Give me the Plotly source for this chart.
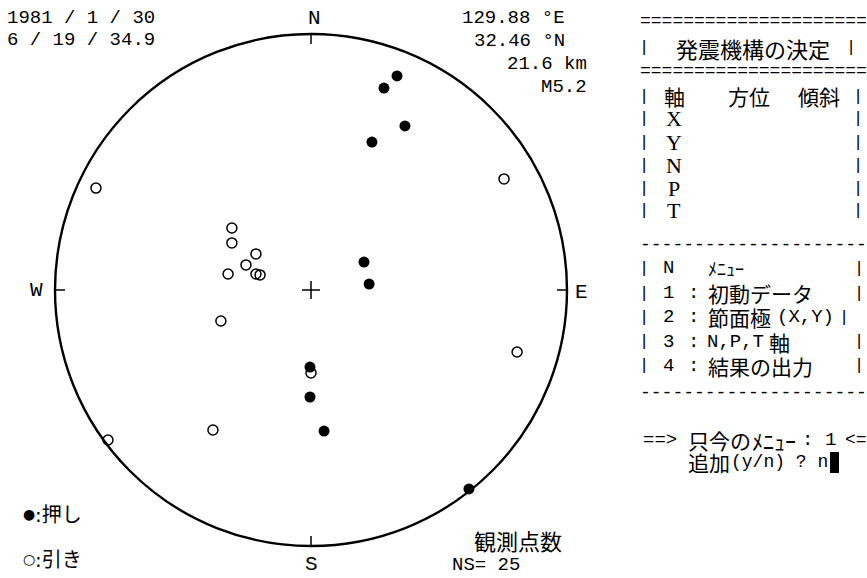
import plotly.graph_objects as go

# Canvas and projection-net geometry (pixels)
W, H = 867, 578
CX, CY, R = 311, 290, 256

# First-motion polarities, plotted on the unit projection net (x east, y north)
push_x = [0.336, 0.285, 0.367, 0.238, 0.207, 0.227, -0.004, -0.004, 0.051, 0.617]
push_y = [0.836, 0.789, 0.641, 0.578, 0.109, 0.023, -0.301, -0.418, -0.551, -0.777]

pull_x = [-0.840, 0.754, -0.309, -0.309, -0.215, -0.254, -0.324, -0.215, -0.199,
          -0.352, 0.805, 0.000, -0.383, -0.793]
pull_y = [0.398, 0.434, 0.242, 0.184, 0.141, 0.098, 0.0625, 0.0625, 0.059,
          -0.121, -0.242, -0.324, -0.547, -0.586]

# Event header
event_date = "1981 / 1 / 30"
event_time = "6 / 19 / 34.9"
event_lon = "129.88 °E"
event_lat = "32.46 °N"
event_depth = "21.6 km"
event_mag = "M5.2"
n_stations = 25

# Side panel text
axis_names = ["X", "Y", "N", "P", "T"]
menu_items = [("1", "初動データ", None), ("2", "節面極", "(X,Y)"),
              ("3", "N,P,T", "軸"), ("4", "結果の出力", None)]

MONO = "Liberation Mono, DejaVu Sans Mono, monospace"
CJK = "Noto Sans CJK JP, Noto Sans CJK SC, sans-serif"
SERIF = "Liberation Serif, DejaVu Serif, serif"
SYM = "DejaVu Sans, Noto Sans CJK JP"

fig = go.Figure()

fig.add_trace(go.Scatter(
    x=push_x, y=push_y, mode="markers", name="押し",
    marker=dict(symbol="circle", size=11, color="black"),
    hoverinfo="skip", showlegend=False))
fig.add_trace(go.Scatter(
    x=pull_x, y=pull_y, mode="markers", name="引き",
    marker=dict(symbol="circle-open", size=10, color="black",
                line=dict(width=1.5, color="black")),
    hoverinfo="skip", showlegend=False))

# Net outline, centre cross and N/E/S/W ticks
shapes = [dict(type="circle", xref="x", yref="y", x0=-1, y0=-1, x1=1, y1=1,
               line=dict(color="black", width=2.4))]
arm = 9 / R
tick = 10 / R
for x0, y0, x1, y1 in [(-arm, 0, arm, 0), (0, -arm, 0, arm),
                       (0, 1, 0, 1 - tick), (0, -1, 0, -1 + tick),
                       (-1, 0, -1 + tick, 0), (1, 0, 1 - tick, 0)]:
    shapes.append(dict(type="line", xref="x", yref="y", x0=x0, y0=y0, x1=x1, y1=y1,
                       line=dict(color="black", width=1.5)))

# Text cursor block after the prompt
shapes.append(dict(type="rect", xref="paper", yref="paper",
                   x0=830 / W, x1=839 / W, y0=1 - 473 / H, y1=1 - 452 / H,
                   fillcolor="black", line=dict(width=0)))

annotations = []


def txt(px, py, s, size=19, family=MONO, anchor="left"):
    annotations.append(dict(
        x=px / W, y=1 - py / H, xref="paper", yref="paper", text=s,
        showarrow=False, xanchor=anchor, yanchor="middle", borderpad=0,
        font=dict(family=family, size=size, color="black")))


def bar(px, py):
    txt(px, py, "|", size=17, anchor="center")


def rule(py, ch):
    txt(639, py, ch * 21, size=18)


# Header
txt(6, 18, event_date)
txt(6, 40, event_time)
txt(566, 18, event_lon, anchor="right")
txt(566, 41, event_lat, anchor="right")
txt(588, 64, event_depth, anchor="right")
txt(588, 87, event_mag, anchor="right")

# Compass labels
txt(314, 18, "N", size=21, anchor="center")
txt(311, 564, "S", size=21, anchor="center")
txt(36, 290, "W", size=21, anchor="center")
txt(581, 292, "E", size=21, anchor="center")

# Legend
txt(29, 514, "●", size=14, family=SYM, anchor="center")
txt(34, 515, ":押し", size=20, family=SYM)
txt(29, 559, "○", size=14, family=SYM, anchor="center")
txt(34, 560, ":引き", size=20, family=SYM)

# Station count
txt(473, 540, "観測点数", size=22, family=CJK)
txt(451, 565, f"NS= {n_stations}")

# Panel: title box
rule(21, "=")
bar(644, 48)
txt(675, 48, "発震機構の決定", size=22, family=CJK)
bar(851, 48)
rule(71, "=")

# Panel: axis table
bar(644, 96)
txt(663, 96, "軸", size=21, family=CJK)
txt(727, 96, "方位", size=21, family=CJK)
txt(797, 96, "傾斜", size=21, family=CJK)
bar(858, 96)
for i, name in enumerate(axis_names):
    yy = 119 + 23 * i
    bar(644, yy)
    txt(674, yy, name, size=22, family=SERIF, anchor="center")
    bar(858, yy)

rule(245, "-")

# Panel: menu
bar(644, 268)
txt(668, 268, "N", anchor="center")
txt(707, 268, "ﾒﾆｭｰ", size=18, family=CJK)
bar(859, 268)
for i, (num, label, extra) in enumerate(menu_items):
    yy = 293 + 24.3 * i
    bar(644, yy)
    txt(668, yy, num, anchor="center")
    txt(693, yy, ":", anchor="center")
    if num == "3":
        txt(706, yy, label)
        txt(768, yy, extra, size=21, family=CJK)
    else:
        txt(707, yy, label, size=21, family=CJK)
        if extra:
            txt(776, yy, extra)
    bar(844 if num == "2" else 859, yy)

rule(393, "-")

# Prompt
txt(642, 440, "==>")
txt(687, 440, "只今の", size=21, family=CJK)
txt(751, 440, "ﾒﾆｭｰ", size=22, family=CJK)
txt(807, 440, ":", anchor="center")
txt(830, 440, "1", anchor="center")
txt(844, 440, "<=", size=18)
txt(687, 462, "追加", size=21, family=CJK)
txt(730, 462, "(y/n) ? n", size=18)

fig.update_layout(
    width=W, height=H, autosize=False,
    margin=dict(l=0, r=0, t=0, b=0),
    paper_bgcolor="white", plot_bgcolor="white",
    xaxis=dict(range=[(0 - CX) / R, (W - CX) / R], visible=False, fixedrange=True),
    yaxis=dict(range=[(CY - H) / R, CY / R], visible=False, fixedrange=True),
    shapes=shapes, annotations=annotations, showlegend=False)

fig.write_html("out.html")
